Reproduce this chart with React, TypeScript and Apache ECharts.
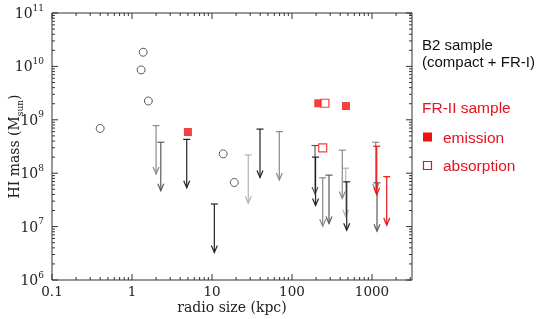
import React, { useEffect, useRef } from 'react';
import * as echarts from 'echarts';

// B2 sample detections (open circles): [radio size kpc, HI mass Msun]
const b2Detections: number[][] = [
  [0.4, 6.9e8], [1.3, 8.6e9], [1.38, 1.84e10], [1.6, 2.25e9], [13.8, 2.3e8], [19, 6.7e7],
];
// FR-II sample, emission (filled red squares)
const fr2Emission: number[][] = [[5.0, 5.9e8], [213, 2.04e9], [473, 1.81e9]];
// FR-II sample, absorption (open red squares)
const fr2Absorption: number[][] = [[258, 2.04e9], [242, 2.97e8]];
// Upper limits (arrows), grouped by drawn shade
const limitsDark: number[][] = [[4.83, 4.3e8], [10.7, 2.65e7], [39.8, 6.7e8], [197, 2.0e8], [483, 6.9e7]];
const limitsMid: number[][] = [[2.29, 3.8e8], [194, 3.3e8], [290, 9.2e7], [1155, 6.6e7]];
const limitsGray: number[][] = [[2.0, 7.8e8], [69.4, 6.0e8], [242, 8.2e7], [425, 2.7e8], [1112, 3.8e8]];
const limitsLight: number[][] = [[28.4, 2.2e8], [469, 1.24e8]];
const limitsFR2: number[][] = [[1145, 3.2e8], [1528, 8.6e7]];

// Axis ranges and tick decades
const xMin = 0.1;
const xMax = 3162.28;
const yMin = 1e6;
const yMax = 1e11;
const xDecades = [0.1, 1, 10, 100, 1000];
const yDecades = [1e6, 1e7, 1e8, 1e9, 1e10, 1e11];
const minorSteps = [2, 3, 4, 5, 6, 7, 8, 9];

const ARROW_RATIO = 0.124;
const SERIF = 'DejaVu Serif';
const SANS = 'Liberation Sans';
const RED = '#ee1111';
const TEXT_RED = '#e5121f';

function buildTicks(decades: number[], max: number) {
  const out: number[][] = [];
  decades.forEach((d) => {
    out.push([d, 1]);
    minorSteps.forEach((m) => {
      const v = d * m;
      if (v < max * 0.999 && d < max) out.push([v, 0]);
    });
  });
  return out.filter((t) => t[0] <= max * 1.0001);
}

export default function App() {
  const ref = useRef<HTMLDivElement>(null);
  useEffect(() => {
    if (!ref.current) return;
    const chart = echarts.init(ref.current, undefined, { renderer: 'svg' });

    const xTicks = buildTicks(xDecades, xMax).map((t) => [t[0], yMin, t[1]]);
    const yTicks = buildTicks(yDecades, yMax).map((t) => [xMin, t[0], t[1]]);

    const frameColor = '#333';

    const xTickSeries = {
      type: 'custom',
      silent: true,
      clip: false,
      data: xTicks,
      encode: { x: 0, y: 1 },
      z: 1,
      renderItem: (params: any, api: any) => {
        const p = api.coord([api.value(0), yMin]);
        const cs = params.coordSys;
        const L = api.value(2) ? 6 : 3;
        const st = { stroke: frameColor, lineWidth: 1 };
        return {
          type: 'group',
          children: [
            { type: 'line', shape: { x1: p[0], y1: cs.y + cs.height, x2: p[0], y2: cs.y + cs.height - L }, style: st },
            { type: 'line', shape: { x1: p[0], y1: cs.y, x2: p[0], y2: cs.y + L }, style: st },
          ],
        };
      },
    };
    const yTickSeries = {
      type: 'custom',
      silent: true,
      clip: false,
      data: yTicks,
      encode: { x: 0, y: 1 },
      z: 1,
      renderItem: (params: any, api: any) => {
        const p = api.coord([xMin, api.value(1)]);
        const cs = params.coordSys;
        const L = api.value(2) ? 6 : 3;
        const st = { stroke: frameColor, lineWidth: 1 };
        return {
          type: 'group',
          children: [
            { type: 'line', shape: { x1: cs.x, y1: p[1], x2: cs.x + L, y2: p[1] }, style: st },
            { type: 'line', shape: { x1: cs.x + cs.width, y1: p[1], x2: cs.x + cs.width - L, y2: p[1] }, style: st },
          ],
        };
      },
    };

    const arrowSeries = (data: number[][], color: string) => ({
      type: 'custom',
      silent: true,
      data,
      encode: { x: 0, y: 1 },
      z: 2,
      itemStyle: { color },
      renderItem: (params: any, api: any) => {
        const x = api.value(0);
        const y = api.value(1);
        const top = api.coord([x, y]);
        const bot = api.coord([x, y * ARROW_RATIO]);
        const st = { stroke: color, lineWidth: 1.2, fill: 'none' };
        return {
          type: 'group',
          children: [
            { type: 'line', shape: { x1: top[0] - 3.5, y1: top[1], x2: top[0] + 3.5, y2: top[1] }, style: st },
            { type: 'line', shape: { x1: top[0], y1: top[1], x2: bot[0], y2: bot[1] }, style: st },
            {
              type: 'polyline',
              shape: { points: [[bot[0] - 3, bot[1] - 7], [bot[0], bot[1]], [bot[0] + 3, bot[1] - 7]] },
              style: st,
            },
          ],
        };
      },
    });

    const option: any = {
      animation: false,
      grid: {
        left: 52, top: 13, right: 133, bottom: 39,
        containLabel: false,
        outerBoundsMode: 'none',
        show: true,
        borderColor: frameColor,
        borderWidth: 1,
        backgroundColor: 'transparent',
      },
      xAxis: {
        type: 'log',
        logBase: 10,
        min: xMin,
        max: xMax,
        axisLine: { show: false },
        axisTick: { show: false },
        splitLine: { show: false },
        axisLabel: {
          margin: 4,
          color: '#222',
          fontFamily: SERIF,
          fontSize: 13.5,
          lineHeight: 13,
          formatter: (v: number) => {
            const l = Math.log10(v);
            if (Math.abs(l - Math.round(l)) > 1e-6) return '';
            return String(Math.pow(10, Math.round(l)));
          },
        },
        name: 'radio size (kpc)',
        nameLocation: 'middle',
        nameGap: 20,
        nameMoveOverlap: false,
        nameTextStyle: { fontFamily: SERIF, fontSize: 14, color: '#222', lineHeight: 13 },
      },
      yAxis: {
        type: 'log',
        logBase: 10,
        min: yMin,
        max: yMax,
        axisLine: { show: false },
        axisTick: { show: false },
        splitLine: { show: false },
        axisLabel: {
          margin: 8,
          color: '#222',
          formatter: (v: number) => {
            const l = Math.log10(v);
            if (Math.abs(l - Math.round(l)) > 1e-6) return '';
            return '{b|10}{e|' + Math.round(l) + '}';
          },
          rich: {
            b: { fontFamily: SERIF, fontSize: 14, color: '#222', lineHeight: 20, verticalAlign: 'middle' },
            e: { fontFamily: SERIF, fontSize: 9, color: '#222', lineHeight: 12, verticalAlign: 'top' },
          },
        },
        name: '{a|HI mass (M}{s|sun}{a|)}',
        nameLocation: 'middle',
        nameGap: 28,
        nameRotate: 90,
        nameMoveOverlap: false,
        nameTextStyle: {
          rich: {
            a: { fontFamily: SERIF, fontSize: 14, color: '#222', lineHeight: 20, verticalAlign: 'middle' },
            s: { fontFamily: SERIF, fontSize: 9, color: '#222', lineHeight: 14, verticalAlign: 'bottom' },
          },
        },
      },
      series: [
        xTickSeries,
        yTickSeries,
        arrowSeries(limitsLight, '#b3b3b3'),
        arrowSeries(limitsGray, '#8a8a8a'),
        arrowSeries(limitsMid, '#5a5a5a'),
        arrowSeries(limitsDark, '#222222'),
        arrowSeries(limitsFR2, RED),
        {
          type: 'scatter',
          data: b2Detections,
          symbol: 'circle',
          symbolSize: 8,
          z: 3,
          itemStyle: { color: 'rgba(255,255,255,0)', borderColor: '#333', borderWidth: 1 },
        },
        {
          type: 'scatter',
          data: fr2Emission,
          symbol: 'rect',
          symbolSize: 8,
          z: 3,
          itemStyle: { color: RED },
        },
        {
          type: 'scatter',
          data: fr2Absorption,
          symbol: 'rect',
          symbolSize: 8,
          z: 4,
          itemStyle: { color: '#fff', borderColor: RED, borderWidth: 1.2 },
        },
      ],
      graphic: [
        { type: 'text', x: 422, y: 44, style: { text: 'B2 sample', fill: '#111', fontFamily: SANS, fontSize: 15, verticalAlign: 'middle' } },
        { type: 'text', x: 422, y: 61, style: { text: '(compact + FR-I)', fill: '#111', fontFamily: SANS, fontSize: 15, verticalAlign: 'middle' } },
        { type: 'text', x: 422, y: 107, style: { text: 'FR-II sample', fill: TEXT_RED, fontFamily: SANS, fontSize: 15.5, verticalAlign: 'middle' } },
        { type: 'rect', shape: { x: 423, y: 132.5, width: 9, height: 9 }, style: { fill: RED } },
        { type: 'text', x: 443, y: 137, style: { text: 'emission', fill: TEXT_RED, fontFamily: SANS, fontSize: 15.5, verticalAlign: 'middle' } },
        { type: 'rect', shape: { x: 423.5, y: 161.5, width: 8, height: 8 }, style: { fill: '#fff', stroke: RED, lineWidth: 1.2 } },
        { type: 'text', x: 443, y: 165.5, style: { text: 'absorption', fill: TEXT_RED, fontFamily: SANS, fontSize: 15.5, verticalAlign: 'middle' } },
      ],
    };
    chart.setOption(option);
    return () => chart.dispose();
  }, []);
  return <div ref={ref} style={{ position: 'fixed', left: 0, top: 0, width: 545, height: 319 }} />;
}
